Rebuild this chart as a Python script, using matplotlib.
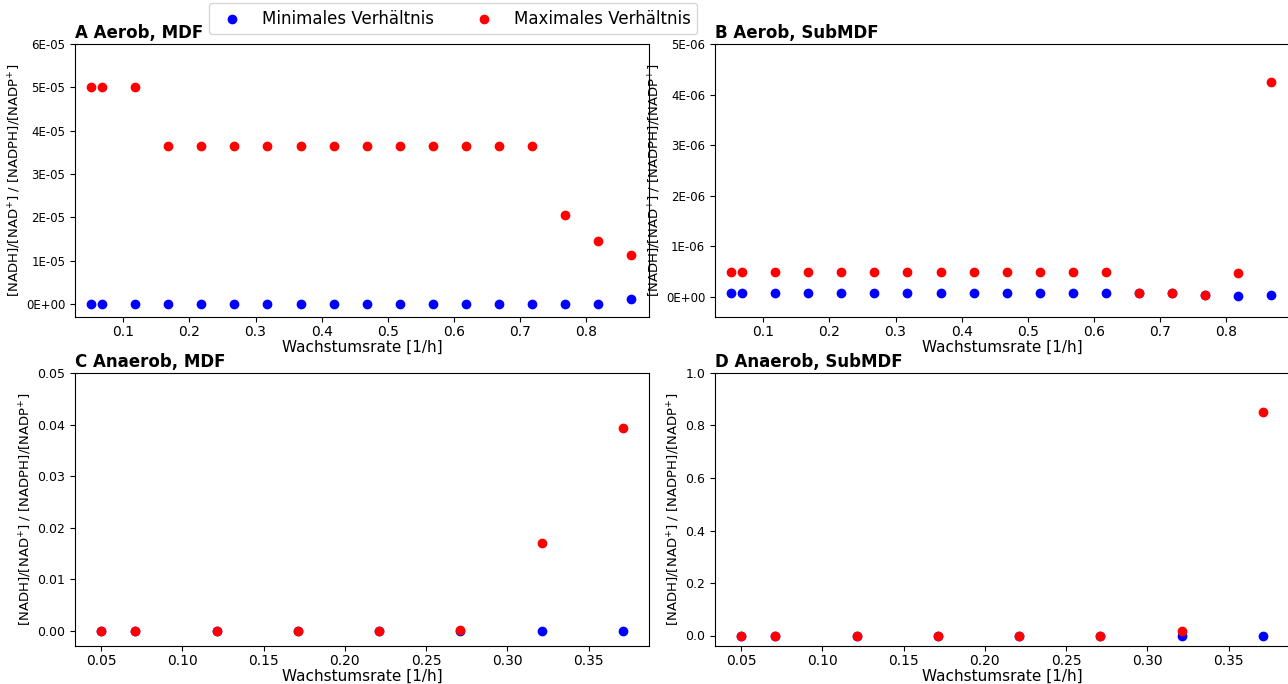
import matplotlib
matplotlib.use("Agg")
import matplotlib.pyplot as plt
from matplotlib.ticker import FormatStrFormatter

# growth rates [1/h]
x_aerob = [0.051, 0.068, 0.118, 0.168, 0.218, 0.268, 0.318, 0.368, 0.418,
           0.468, 0.518, 0.568, 0.618, 0.668, 0.718, 0.768, 0.818, 0.868]
x_anaerob = [0.05, 0.071, 0.121, 0.171, 0.221, 0.271, 0.321, 0.371]

# A Aerob, MDF
a_min = [0, 0, 0, 0, 0, 0, 0, 0, 0, 0, 0, 0, 0, 0, 0, 0, 0, 1.1e-06]
a_max = [5.0e-05, 5.0e-05, 5.0e-05, 3.65e-05, 3.65e-05, 3.65e-05, 3.65e-05,
         3.65e-05, 3.65e-05, 3.65e-05, 3.65e-05, 3.65e-05, 3.65e-05, 3.65e-05,
         3.65e-05, 2.05e-05, 1.46e-05, 1.13e-05]

# B Aerob, SubMDF
b_min = [8e-08, 8e-08, 8e-08, 8e-08, 8e-08, 8e-08, 8e-08, 8e-08, 8e-08,
         8e-08, 8e-08, 8e-08, 8e-08, 7e-08, 7e-08, 3e-08, 1e-08, 3e-08]
b_max = [5.0e-07, 5.0e-07, 5.0e-07, 5.0e-07, 5.0e-07, 5.0e-07, 5.0e-07,
         5.0e-07, 5.0e-07, 5.0e-07, 5.0e-07, 5.0e-07, 5.0e-07, 7e-08,
         7e-08, 3e-08, 4.8e-07, 4.24e-06]

# C Anaerob, MDF
c_min = [0, 0, 0, 0, 0, 0, 0, 0]
c_max = [0, 0, 0, 0, 0, 0.0002, 0.0169, 0.0393]

# D Anaerob, SubMDF
d_min = [0, 0, 0, 0, 0, 0, 0, 0]
d_max = [0, 0, 0, 0, 0, 0, 0.0177, 0.851]

W, H = 1288, 684
fig = plt.figure(figsize=(W / 100, H / 100), dpi=100)


def px_axes(left, right, top, bottom):
    return fig.add_axes([left / W, (H - bottom) / H, (right - left) / W, (bottom - top) / H])


aerob_xlim = (0.027, 0.895)

panels = [
    (px_axes(75, 649, 44, 317), x_aerob, a_min, a_max, "A Aerob, MDF", aerob_xlim, (-3e-06, 6e-05), True),
    (px_axes(715, 1289, 44, 317), x_aerob, b_min, b_max, "B Aerob, SubMDF", aerob_xlim, (-4e-07, 5e-06), True),
    (px_axes(75, 649, 373, 646), x_anaerob, c_min, c_max, "C Anaerob, MDF", None, (-0.003, 0.05), False),
    (px_axes(715, 1289, 373, 646), x_anaerob, d_min, d_max, "D Anaerob, SubMDF", None, (-0.04, 1.0), False),
]

ylab = r"[NADH]/[NAD$^{+}$] / [NADPH]/[NADP$^{+}$]"

for ax, xs, ymin, ymax, title, xlim, ylim, sci in panels:
    h1 = ax.scatter(xs, ymin, color="blue", label="Minimales Verhältnis")
    h2 = ax.scatter(xs, ymax, color="red", label="Maximales Verhältnis")
    if xlim is not None:
        ax.set_xlim(*xlim)
    ax.set_ylim(*ylim)
    if sci:
        ax.yaxis.set_major_formatter(FormatStrFormatter("%.0E"))
        ax.tick_params(axis="y", labelsize=8.5)
    else:
        ax.tick_params(axis="y", labelsize=9)
    ax.tick_params(axis="x", labelsize=10, pad=2)
    ax.set_title(title, loc="left", fontsize=12, fontweight="bold", pad=4)
    ax.set_xlabel("Wachstumsrate [1/h]", fontsize=11, labelpad=1)
    ax.set_ylabel(ylab, fontsize=9.5, labelpad=2)

fig.legend([h1, h2], ["Minimales Verhältnis", "Maximales Verhältnis"],
           loc="upper center", bbox_to_anchor=(453 / W, 1 - 3 / H), ncol=2,
           fontsize=12, borderaxespad=0)

fig.savefig("out.png", dpi=100)
